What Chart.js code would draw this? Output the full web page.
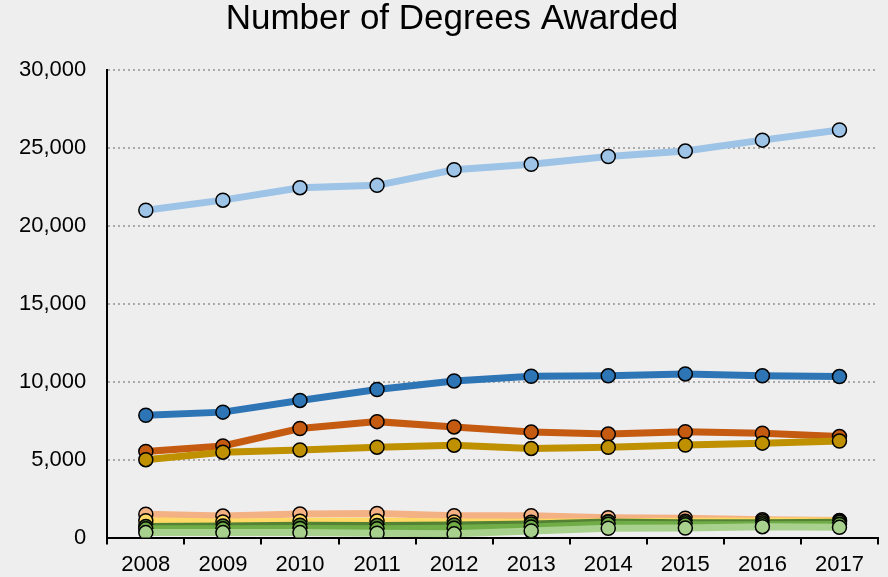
<!DOCTYPE html>
<html>
<head>
<meta charset="utf-8">
<script src="https://cdn.jsdelivr.net/npm/chart.js@4.4.1/dist/chart.umd.min.js"></script>
<style>
  html, body { margin: 0; padding: 0; background: #eeeeee; }
  #wrap { width: 888px; height: 577px; }
</style>
</head>
<body>
<div id="wrap"><canvas id="myChart" width="888" height="577"></canvas></div>
<script>
const chartTitle = 'Number of Degrees Awarded';
const years = ['2008', '2009', '2010', '2011', '2012', '2013', '2014', '2015', '2016', '2017'];

const lightBlue  = [21000, 21650, 22450, 22600, 23600, 23950, 24450, 24800, 25500, 26150];
const blue       = [7850, 8050, 8800, 9500, 10050, 10350, 10380, 10500, 10380, 10330];
const orange     = [5530, 5880, 7000, 7440, 7100, 6770, 6640, 6790, 6700, 6480];
const gold       = [5000, 5480, 5620, 5800, 5930, 5720, 5790, 5940, 6060, 6200];
const lightOrange = [1500, 1380, 1520, 1550, 1400, 1400, 1280, 1240, 1150, 1100];
const yellow     = [1080, 1000, 1050, 1060, 1000, 980, 1020, 1050, 1060, 1070];
const darkGreen  = [720, 750, 790, 770, 810, 870, 1000, 960, 950, 980];
const green      = [560, 560, 590, 560, 600, 680, 850, 820, 820, 840];
const lightGreen = [320, 320, 320, 280, 240, 430, 600, 610, 700, 660];

const seriesList = [
  { data: lightBlue, color: '#9dc3e6' },
  { data: blue, color: '#2e75b6' },
  { data: orange, color: '#c55a11' },
  { data: gold, color: '#bf9000' },
  { data: lightOrange, color: '#f4b183' },
  { data: yellow, color: '#ffd966' },
  { data: darkGreen, color: '#548235' },
  { data: green, color: '#70ad47' },
  { data: lightGreen, color: '#a9d18e' },
];

// background + title (title drawn by hand so it can sit a bit right of centre)
const bgPlugin = {
  id: 'bg',
  beforeDraw: (chart) => {
    const c = chart.ctx;
    c.save();
    c.fillStyle = '#eeeeee';
    c.fillRect(0, 0, chart.width, chart.height);
    c.fillStyle = '#000000';
    c.font = '35px "Liberation Sans"';
    c.textAlign = 'center';
    c.textBaseline = 'middle';
    c.fillText(chartTitle, 452, 19);
    c.restore();
  }
};

const ctx = document.getElementById('myChart').getContext('2d');

new Chart(ctx, {
  type: 'line',
  data: {
    labels: years,
    datasets: seriesList.map((s, i) => ({
      data: s.data,
      borderColor: s.color,
      backgroundColor: s.color,
      borderWidth: 7,
      pointRadius: 7,
      pointBorderWidth: 1.5,
      pointBorderColor: '#000000',
      pointBackgroundColor: s.color,
      tension: 0,
      order: seriesList.length - i,
    }))
  },
  options: {
    responsive: false,
    animation: false,
    layout: { padding: { left: -2, right: 10, top: 70, bottom: -8 } },
    plugins: {
      legend: { display: false },
      tooltip: { enabled: false },
      title: { display: false }
    },
    scales: {
      x: {
        offset: true,
        grid: {
          offset: true,
          drawOnChartArea: false,
          drawTicks: true,
          tickLength: 7,
          color: '#000000',
          lineWidth: 2
        },
        border: { color: '#000000', width: 2 },
        ticks: {
          color: '#000000',
          font: { family: 'Liberation Sans', size: 22 },
          padding: 7
        }
      },
      y: {
        min: 0,
        max: 30000,
        grid: {
          color: (c) => c.tick.value === 0 ? 'rgba(0,0,0,0)' : '#aaaaaa',
          lineWidth: 2,
          drawTicks: false
        },
        border: { color: '#000000', width: 2, dash: [2, 3] },
        ticks: {
          stepSize: 5000,
          color: '#000000',
          font: { family: 'Liberation Sans', size: 22 },
          padding: 21,
          callback: (v) => v.toLocaleString('en-US')
        }
      }
    }
  },
  plugins: [bgPlugin]
});
</script>
</body>
</html>
